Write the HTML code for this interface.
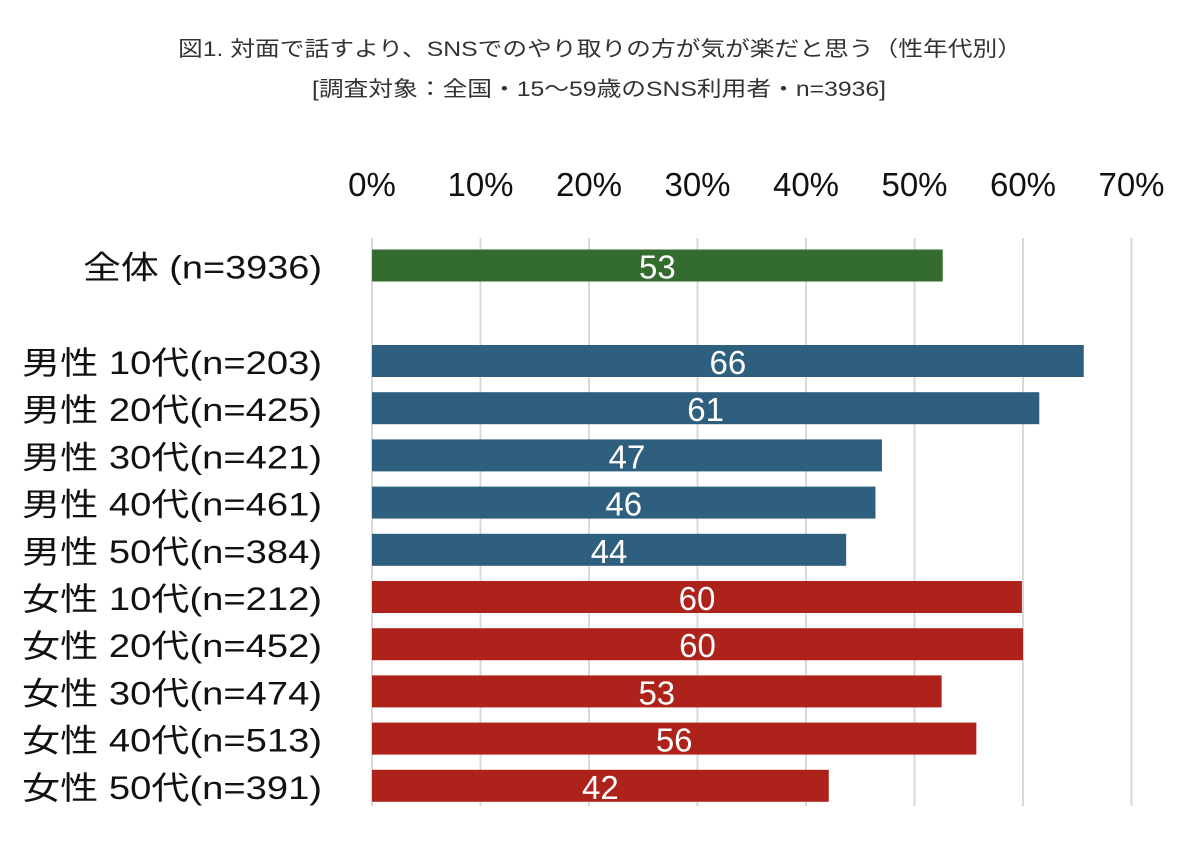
<!DOCTYPE html>
<html><head><meta charset="utf-8"><style>
body{margin:0;background:#fff;}
svg text{font-family:"Liberation Sans","Noto Sans CJK JP",sans-serif;}
</style></head><body>
<svg width="1200" height="845">
<text x="178" y="56" font-size="21" fill="#333" textLength="844" lengthAdjust="spacingAndGlyphs">図1. 対面で話すより、SNSでのやり取りの方が気が楽だと思う（性年代別）</text>
<text x="312" y="96" font-size="21" fill="#333" textLength="574" lengthAdjust="spacingAndGlyphs">[調査対象：全国・15～59歳のSNS利用者・n=3936]</text>
<g id="grid"></g><g id="bars"></g>
</svg>
<script>
const categories=["全体 (n=3936)","男性 10代(n=203)","男性 20代(n=425)","男性 30代(n=421)","男性 40代(n=461)","男性 50代(n=384)","女性 10代(n=212)","女性 20代(n=452)","女性 30代(n=474)","女性 40代(n=513)","女性 50代(n=391)"];
const values=[52.6,65.6,61.5,47.0,46.4,43.7,59.9,60.0,52.5,55.7,42.1];
const labels=["53","66","61","47","46","44","60","60","53","56","42"];
const groups=["all","m","m","m","m","m","f","f","f","f","f"];
const ticks=[0,10,20,30,40,50,60,70];
const colors={all:"#346b2e",m:"#2e5f7e",f:"#ad231b"};
const NS="http://www.w3.org/2000/svg";
const x=v=>372+v*10.85;
const rowY=i=>i===0?249.5:345+(i-1)*47.2;
const g=document.getElementById('grid'),b=document.getElementById('bars');
function mk(t,a,p){const e=document.createElementNS(NS,t);for(const k in a)e.setAttribute(k,a[k]);p.appendChild(e);return e;}
ticks.forEach(t=>{
const l=mk('line',{x1:x(t),x2:x(t),y1:238,y2:806,stroke:"#d9d9d9","stroke-width":2},g);


const tx=mk('text',{x:x(t),y:196,"text-anchor":"middle","font-size":33,fill:"#111"},g);
tx.textContent=t+"%";


});
values.forEach((v,i)=>{
const y=rowY(i);
const r=mk('rect',{x:x(0),y:y,width:x(v)-x(0),height:32,fill:colors[groups[i]]},b);


const vl=mk('text',{x:(x(0)+x(v))/2,y:y+29,"text-anchor":"middle","font-size":33,fill:"#fff"},b);
vl.textContent=labels[i];


const cl=mk('text',{x:322,y:y+29,"text-anchor":"end","font-size":32,fill:"#111",textLength:i===0?239:300,lengthAdjust:"spacingAndGlyphs"},b);
cl.textContent=categories[i];


});
</script>
</body></html>
